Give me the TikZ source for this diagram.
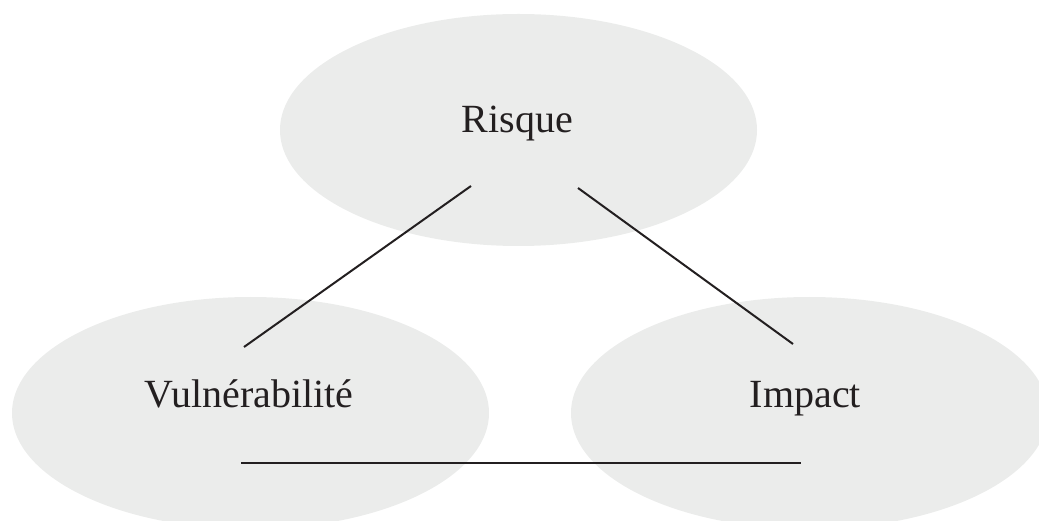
\documentclass[tikz,border=0pt]{standalone}
\usepackage{fontspec}
\setmainfont{Liberation Serif}
\usetikzlibrary{shapes.geometric}
\definecolor{blobgray}{RGB}{235,236,235}
\definecolor{inkdark}{RGB}{35,31,32}
\tikzset{
  blob/.style={ellipse, fill=blobgray, draw=none, minimum width=477pt, minimum height=232pt, inner sep=0pt},
  lbl/.style={anchor=base, text=inkdark, inner sep=0pt, font=\fontsize{40}{48}\selectfont},
  link/.style={draw=inkdark, line width=2pt}
}
\begin{document}
\begin{tikzpicture}[x=1pt, y=-1pt]
  \useasboundingbox (0,0) rectangle (1039,521);
  \clip (0,0) rectangle (1039,521);
  \node[blob] (risqueE) at (518.5,130) {};
  \node[blob] (vulnE) at (250.5,413) {};
  \node[blob] (impactE) at (809.5,413) {};
  \node[lbl] (risque) at (517.5,133) {Risque};
  \node[lbl] (vuln) at (249,407) {Vulnérabilité};
  \node[lbl] (impact) at (805.5,407) {Impact};
  \coordinate (rl) at (471,186);
  \coordinate (vt) at (244,347);
  \coordinate (rr) at (578,188);
  \coordinate (it) at (793,344);
  \coordinate (vb) at (241,463);
  \coordinate (ib) at (801,463);
  \draw[link] (rl) -- (vt);
  \draw[link] (rr) -- (it);
  \draw[link] (vb) -- (ib);
\end{tikzpicture}
\end{document}
